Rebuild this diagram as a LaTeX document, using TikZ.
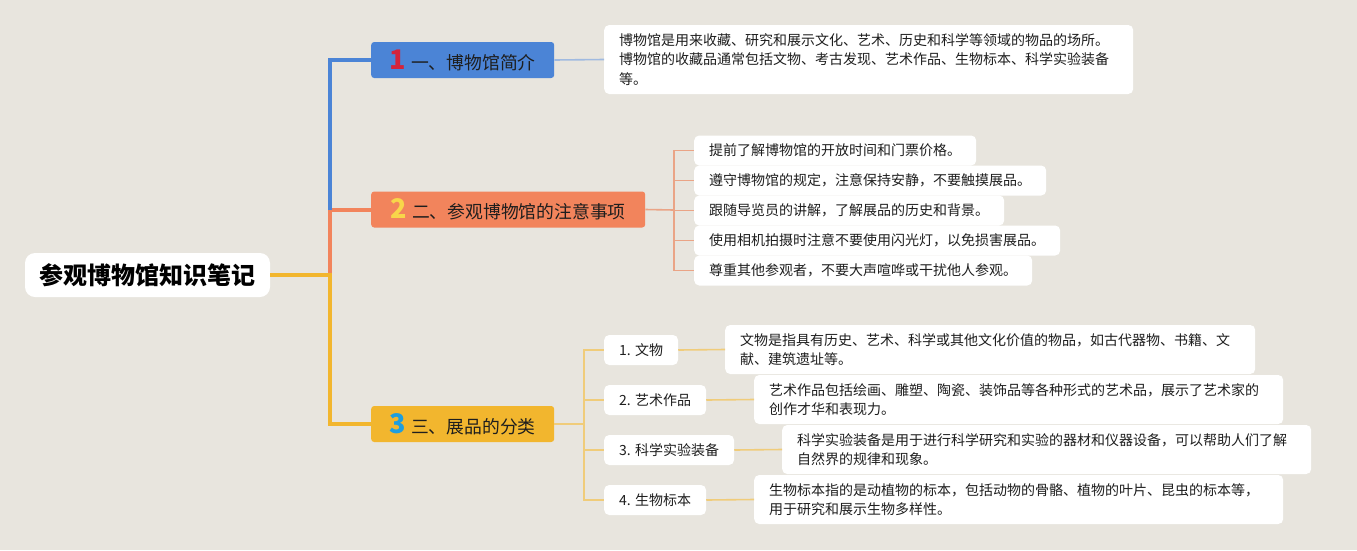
\documentclass[tikz,border=0pt]{standalone}
\usepackage{fontspec}
\setmainfont{Noto Sans CJK SC}
\definecolor{bg}{RGB}{232,229,222}
\definecolor{txt}{RGB}{30,30,30}
\definecolor{cb}{RGB}{75,132,214}
\definecolor{co}{RGB}{242,132,92}
\definecolor{cy}{RGB}{242,182,46}
\definecolor{n1}{RGB}{212,36,58}
\definecolor{n2}{RGB}{248,214,74}
\definecolor{n3}{RGB}{30,158,222}
\definecolor{lb}{RGB}{160,186,224}
\definecolor{lo}{RGB}{234,164,134}
\definecolor{ly}{RGB}{240,204,122}
\tikzset{
  rootbox/.style={fill=white, rounded corners=10pt, minimum width=245pt, minimum height=44pt, inner sep=0pt, text=black, font=\fontsize{24}{28}\selectfont\bfseries},
  branch/.style={rounded corners=3pt, minimum height=36pt, inner sep=0pt, anchor=west, text=txt, font=\fontsize{17.8}{20}\selectfont},
  leaf/.style={fill=white, rounded corners=5pt, inner xsep=15pt, inner ysep=0pt, minimum height=30pt, anchor=west, text=txt, font=\fontsize{14}{19.5}\selectfont},
  desc/.style={fill=white, rounded corners=5pt, inner xsep=15pt, inner ysep=0pt, anchor=west, align=left, text=txt, font=\fontsize{14}{19.5}\selectfont},
  main/.style={line width=4pt},
  sub/.style={line width=1.6pt},
}
\begin{document}
\begin{tikzpicture}[x=1pt,y=-1pt]
\fill[bg] (0,0) rectangle (1357,550);
\useasboundingbox (0,0) rectangle (1357,550);

% root
\node[rootbox] (root) at (147.5,275) {参观博物馆知识笔记};

% branches
\node[branch, fill=cb, minimum width=183pt] (b1) at (371,60) {{\bfseries\fontsize{27}{28}\selectfont\color{n1}1}\hspace{5pt}一、博物馆简介};
\node[branch, fill=co, minimum width=274pt] (b2) at (371,209.5) {{\bfseries\fontsize{27}{28}\selectfont\color{n2}2}\hspace{5pt}二、参观博物馆的注意事项};
\node[branch, fill=cy, minimum width=183pt] (b3) at (371,424) {{\bfseries\fontsize{27}{28}\selectfont\color{n3}3}\hspace{5pt}三、展品的分类};

% trunk connectors
\coordinate (j1) at (330,275);
\coordinate (j2) at (330,210);
\draw[main, co] (j1) |- (b2.west);
\draw[main, cb] (j2) |- (b1.west);
\draw[main, cy] (root.east) -- (j1) |- (b3.west);

% branch 1 description
\node[desc, minimum height=69pt, text width=499pt] (d0) at (604,59.5) {博物馆是用来收藏、研究和展示文化、艺术、历史和科学等领域的物品的场所。\\博物馆的收藏品通常包括文物、考古发现、艺术作品、生物标本、科学实验装备\\等。};
\draw[sub, lb] (b1.east) -- (d0.west);

% branch 2 items
\node[leaf] (c1) at (694,150.5) {提前了解博物馆的开放时间和门票价格。};
\node[leaf] (c2) at (694,180.5) {遵守博物馆的规定，注意保持安静，不要触摸展品。};
\node[leaf] (c3) at (694,210.5) {跟随导览员的讲解，了解展品的历史和背景。};
\node[leaf] (c4) at (694,240.5) {使用相机拍摄时注意不要使用闪光灯，以免损害展品。};
\node[leaf] (c5) at (694,270.5) {尊重其他参观者，不要大声喧哗或干扰他人参观。};
\coordinate (k2) at (674,210);
\draw[sub, lo] (b2.east) -- (k2);
\foreach \i in {1,...,5} \draw[sub, lo] (k2) |- (c\i.west);

% branch 3 items
\node[leaf] (t1) at (604,350) {1. 文物};
\node[leaf] (t2) at (604,400) {2. 艺术作品};
\node[leaf] (t3) at (604,450) {3. 科学实验装备};
\node[leaf] (t4) at (604,500) {4. 生物标本};
\coordinate (k3) at (584,424);
\draw[sub, ly] (b3.east) -- (k3);
\foreach \i in {1,...,4} \draw[sub, ly] (k3) |- (t\i.west);

\node[desc, minimum height=49pt, text width=500pt] (e1) at (725,349.5) {文物是指具有历史、艺术、科学或其他文化价值的物品，如古代器物、书籍、文\\献、建筑遗址等。};
\node[desc, minimum height=49pt, text width=499pt] (e2) at (754,399.5) {艺术作品包括绘画、雕塑、陶瓷、装饰品等各种形式的艺术品，展示了艺术家的\\创作才华和表现力。};
\node[desc, minimum height=49pt, text width=499pt] (e3) at (782,449.5) {科学实验装备是用于进行科学研究和实验的器材和仪器设备，可以帮助人们了解\\自然界的规律和现象。};
\node[desc, minimum height=49pt, text width=499pt] (e4) at (754,499.5) {生物标本指的是动植物的标本，包括动物的骨骼、植物的叶片、昆虫的标本等，\\用于研究和展示生物多样性。};
\foreach \i in {1,...,4} \draw[sub, ly] (t\i.east) -- (e\i.west);
\end{tikzpicture}
\end{document}
